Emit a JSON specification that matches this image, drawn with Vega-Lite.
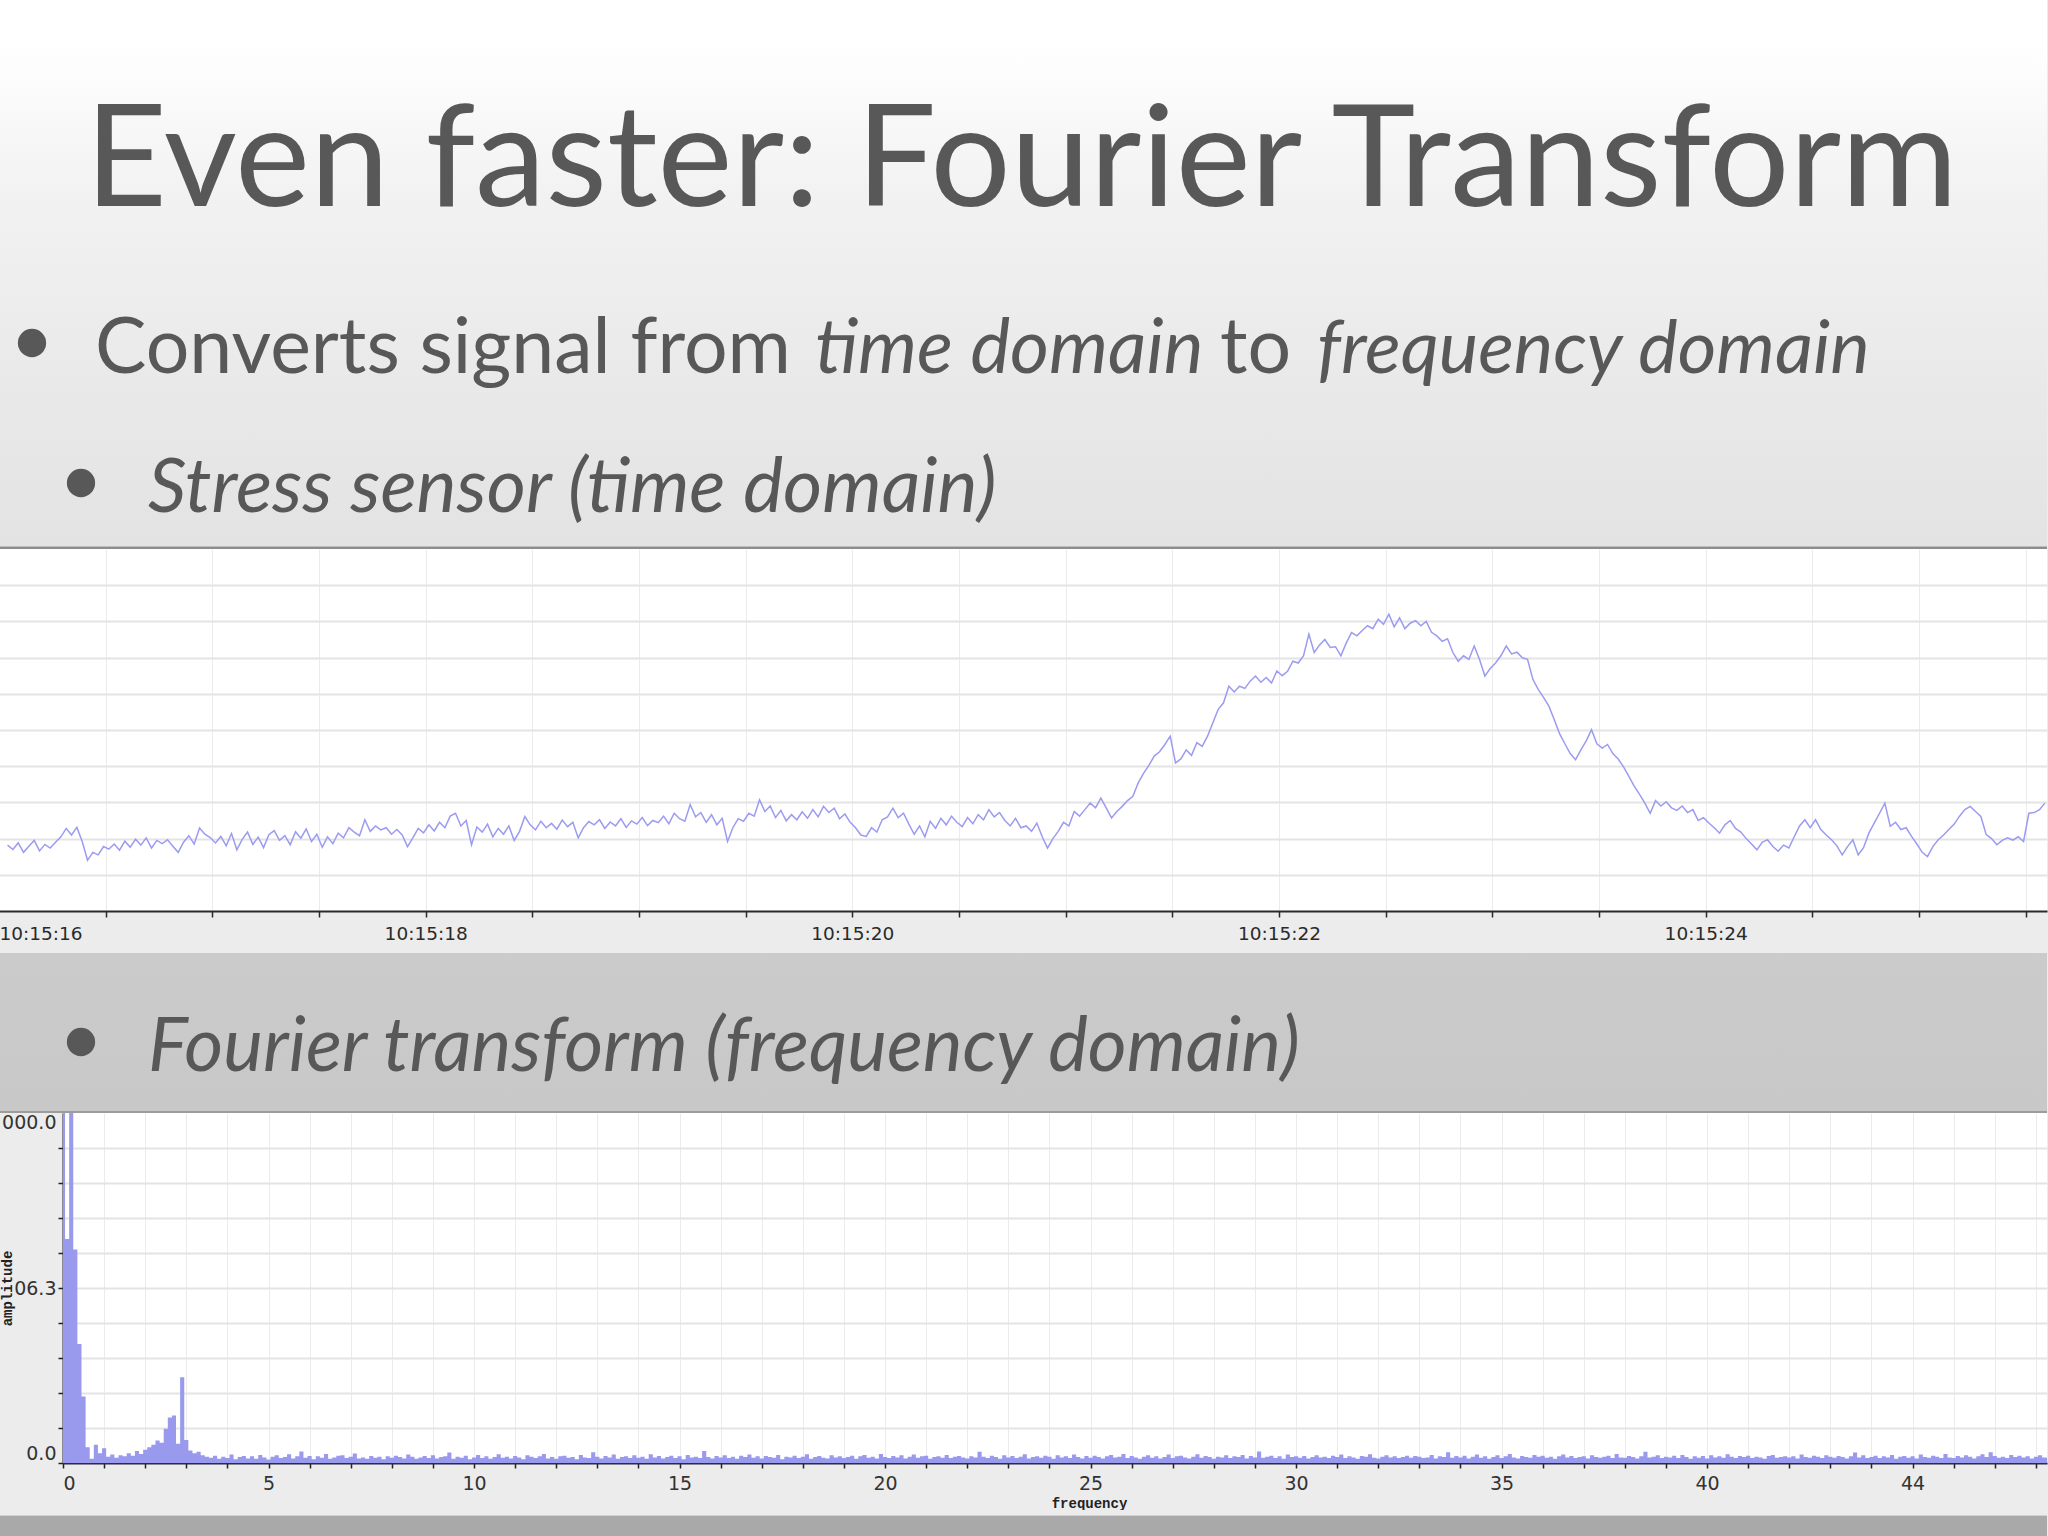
{
  "$schema": "https://vega.github.io/schema/vega-lite/v6.json",
  "background": "#ececec",
  "padding": {"left": -1, "top": 0, "right": 0, "bottom": 0},
  "spacing": 0,
  "config": {
    "view": {"stroke": null},
    "axis": {"labelFont": "DejaVu Sans", "labelOverlap": false}
  },
  "datasets": {
    "stress": [
      {"t":16.04,"v":1.82},{"t":16.065,"v":1.70},{"t":16.09,"v":1.88},{"t":16.115,"v":1.62},{"t":16.14,"v":1.79},{"t":16.165,"v":1.95},{"t":16.19,"v":1.66},{"t":16.215,"v":1.84},{"t":16.24,"v":1.74},{"t":16.265,"v":1.90},
      {"t":16.29,"v":2.05},{"t":16.315,"v":2.28},{"t":16.34,"v":2.10},{"t":16.365,"v":2.31},{"t":16.39,"v":1.92},{"t":16.415,"v":1.40},{"t":16.44,"v":1.62},{"t":16.465,"v":1.55},{"t":16.49,"v":1.78},{"t":16.515,"v":1.71},
      {"t":16.54,"v":1.85},{"t":16.565,"v":1.68},{"t":16.59,"v":1.93},{"t":16.615,"v":1.76},{"t":16.64,"v":1.98},{"t":16.665,"v":1.82},{"t":16.69,"v":2.02},{"t":16.715,"v":1.74},{"t":16.74,"v":1.95},{"t":16.765,"v":1.86},
      {"t":16.79,"v":1.97},{"t":16.815,"v":1.79},{"t":16.84,"v":1.62},{"t":16.865,"v":1.90},{"t":16.89,"v":2.08},{"t":16.915,"v":1.85},{"t":16.94,"v":2.29},{"t":16.965,"v":2.12},{"t":16.99,"v":2.03},{"t":17.015,"v":1.88},
      {"t":17.04,"v":2.06},{"t":17.065,"v":1.80},{"t":17.09,"v":2.14},{"t":17.115,"v":1.69},{"t":17.14,"v":1.98},{"t":17.165,"v":2.18},{"t":17.19,"v":1.84},{"t":17.215,"v":2.04},{"t":17.24,"v":1.75},{"t":17.265,"v":2.11},
      {"t":17.29,"v":2.22},{"t":17.315,"v":1.95},{"t":17.34,"v":2.08},{"t":17.365,"v":1.83},{"t":17.39,"v":2.19},{"t":17.415,"v":2.01},{"t":17.44,"v":2.27},{"t":17.465,"v":1.92},{"t":17.49,"v":2.12},{"t":17.515,"v":1.76},
      {"t":17.54,"v":2.05},{"t":17.565,"v":1.86},{"t":17.59,"v":2.15},{"t":17.615,"v":2.02},{"t":17.64,"v":2.30},{"t":17.665,"v":2.18},{"t":17.69,"v":2.08},{"t":17.715,"v":2.52},{"t":17.74,"v":2.20},{"t":17.765,"v":2.35},
      {"t":17.79,"v":2.24},{"t":17.815,"v":2.30},{"t":17.84,"v":2.12},{"t":17.865,"v":2.25},{"t":17.89,"v":2.10},{"t":17.915,"v":1.78},{"t":17.94,"v":2.02},{"t":17.965,"v":2.28},{"t":17.99,"v":2.16},{"t":18.015,"v":2.38},
      {"t":18.04,"v":2.21},{"t":18.065,"v":2.45},{"t":18.09,"v":2.30},{"t":18.115,"v":2.62},{"t":18.14,"v":2.70},{"t":18.165,"v":2.35},{"t":18.19,"v":2.50},{"t":18.215,"v":1.83},{"t":18.24,"v":2.32},{"t":18.265,"v":2.18},
      {"t":18.29,"v":2.40},{"t":18.315,"v":2.05},{"t":18.34,"v":2.28},{"t":18.365,"v":2.12},{"t":18.39,"v":2.35},{"t":18.415,"v":1.95},{"t":18.44,"v":2.20},{"t":18.465,"v":2.61},{"t":18.49,"v":2.38},{"t":18.515,"v":2.24},
      {"t":18.54,"v":2.48},{"t":18.565,"v":2.30},{"t":18.59,"v":2.42},{"t":18.615,"v":2.26},{"t":18.64,"v":2.51},{"t":18.665,"v":2.33},{"t":18.69,"v":2.45},{"t":18.715,"v":2.02},{"t":18.74,"v":2.30},{"t":18.765,"v":2.47},
      {"t":18.79,"v":2.38},{"t":18.815,"v":2.52},{"t":18.84,"v":2.28},{"t":18.865,"v":2.46},{"t":18.89,"v":2.35},{"t":18.915,"v":2.55},{"t":18.94,"v":2.31},{"t":18.965,"v":2.49},{"t":18.99,"v":2.40},{"t":19.015,"v":2.58},
      {"t":19.04,"v":2.36},{"t":19.065,"v":2.50},{"t":19.09,"v":2.44},{"t":19.115,"v":2.62},{"t":19.14,"v":2.41},{"t":19.165,"v":2.70},{"t":19.19,"v":2.55},{"t":19.215,"v":2.48},{"t":19.24,"v":2.94},{"t":19.265,"v":2.60},
      {"t":19.29,"v":2.72},{"t":19.315,"v":2.45},{"t":19.34,"v":2.66},{"t":19.365,"v":2.38},{"t":19.39,"v":2.56},{"t":19.415,"v":1.92},{"t":19.44,"v":2.30},{"t":19.465,"v":2.55},{"t":19.49,"v":2.48},{"t":19.515,"v":2.70},
      {"t":19.54,"v":2.62},{"t":19.565,"v":3.07},{"t":19.59,"v":2.75},{"t":19.615,"v":2.90},{"t":19.64,"v":2.58},{"t":19.665,"v":2.78},{"t":19.69,"v":2.49},{"t":19.715,"v":2.66},{"t":19.74,"v":2.52},{"t":19.765,"v":2.74},
      {"t":19.79,"v":2.56},{"t":19.815,"v":2.80},{"t":19.84,"v":2.60},{"t":19.865,"v":2.89},{"t":19.89,"v":2.72},{"t":19.915,"v":2.84},{"t":19.94,"v":2.55},{"t":19.965,"v":2.68},{"t":19.99,"v":2.45},{"t":20.015,"v":2.30},
      {"t":20.04,"v":2.10},{"t":20.065,"v":2.06},{"t":20.09,"v":2.30},{"t":20.115,"v":2.18},{"t":20.14,"v":2.52},{"t":20.165,"v":2.60},{"t":20.19,"v":2.84},{"t":20.215,"v":2.58},{"t":20.24,"v":2.70},{"t":20.265,"v":2.40},
      {"t":20.29,"v":2.12},{"t":20.315,"v":2.35},{"t":20.34,"v":2.05},{"t":20.365,"v":2.48},{"t":20.39,"v":2.28},{"t":20.415,"v":2.56},{"t":20.44,"v":2.38},{"t":20.465,"v":2.62},{"t":20.49,"v":2.45},{"t":20.515,"v":2.33},
      {"t":20.54,"v":2.58},{"t":20.565,"v":2.41},{"t":20.59,"v":2.66},{"t":20.615,"v":2.52},{"t":20.64,"v":2.80},{"t":20.665,"v":2.60},{"t":20.69,"v":2.72},{"t":20.715,"v":2.50},{"t":20.74,"v":2.35},{"t":20.765,"v":2.56},
      {"t":20.79,"v":2.30},{"t":20.815,"v":2.35},{"t":20.84,"v":2.20},{"t":20.865,"v":2.43},{"t":20.89,"v":2.05},{"t":20.915,"v":1.74},{"t":20.94,"v":2.00},{"t":20.965,"v":2.20},{"t":20.99,"v":2.45},{"t":21.015,"v":2.35},
      {"t":21.04,"v":2.75},{"t":21.065,"v":2.62},{"t":21.09,"v":2.80},{"t":21.115,"v":2.98},{"t":21.14,"v":2.85},{"t":21.165,"v":3.12},{"t":21.19,"v":2.85},{"t":21.215,"v":2.57},{"t":21.24,"v":2.75},{"t":21.265,"v":2.89},
      {"t":21.29,"v":3.05},{"t":21.315,"v":3.17},{"t":21.34,"v":3.54},{"t":21.365,"v":3.80},{"t":21.39,"v":4.02},{"t":21.415,"v":4.28},{"t":21.44,"v":4.40},{"t":21.465,"v":4.60},{"t":21.49,"v":4.83},{"t":21.515,"v":4.09},
      {"t":21.54,"v":4.20},{"t":21.565,"v":4.45},{"t":21.59,"v":4.30},{"t":21.615,"v":4.65},{"t":21.64,"v":4.55},{"t":21.665,"v":4.83},{"t":21.69,"v":5.20},{"t":21.715,"v":5.57},{"t":21.74,"v":5.75},{"t":21.765,"v":6.21},
      {"t":21.79,"v":6.05},{"t":21.815,"v":6.21},{"t":21.84,"v":6.15},{"t":21.865,"v":6.35},{"t":21.89,"v":6.49},{"t":21.915,"v":6.32},{"t":21.94,"v":6.45},{"t":21.965,"v":6.30},{"t":21.99,"v":6.63},{"t":22.015,"v":6.50},
      {"t":22.04,"v":6.62},{"t":22.065,"v":6.90},{"t":22.09,"v":6.85},{"t":22.115,"v":7.05},{"t":22.14,"v":7.65},{"t":22.165,"v":7.14},{"t":22.19,"v":7.35},{"t":22.215,"v":7.50},{"t":22.24,"v":7.28},{"t":22.265,"v":7.30},
      {"t":22.29,"v":7.05},{"t":22.315,"v":7.40},{"t":22.34,"v":7.69},{"t":22.365,"v":7.60},{"t":22.39,"v":7.75},{"t":22.415,"v":7.88},{"t":22.44,"v":7.80},{"t":22.465,"v":8.06},{"t":22.49,"v":7.92},{"t":22.515,"v":8.20},
      {"t":22.54,"v":7.85},{"t":22.565,"v":8.10},{"t":22.59,"v":7.80},{"t":22.615,"v":7.95},{"t":22.64,"v":8.02},{"t":22.665,"v":7.88},{"t":22.69,"v":8.00},{"t":22.715,"v":7.70},{"t":22.74,"v":7.60},{"t":22.765,"v":7.45},
      {"t":22.79,"v":7.52},{"t":22.815,"v":7.14},{"t":22.84,"v":6.90},{"t":22.865,"v":7.05},{"t":22.89,"v":6.95},{"t":22.915,"v":7.32},{"t":22.94,"v":6.95},{"t":22.965,"v":6.49},{"t":22.99,"v":6.70},{"t":23.015,"v":6.85},
      {"t":23.04,"v":7.05},{"t":23.065,"v":7.32},{"t":23.09,"v":7.10},{"t":23.115,"v":7.15},{"t":23.14,"v":7.00},{"t":23.165,"v":6.95},{"t":23.19,"v":6.40},{"t":23.215,"v":6.12},{"t":23.24,"v":5.90},{"t":23.265,"v":5.66},
      {"t":23.29,"v":5.29},{"t":23.315,"v":4.90},{"t":23.34,"v":4.62},{"t":23.365,"v":4.35},{"t":23.39,"v":4.18},{"t":23.415,"v":4.45},{"t":23.44,"v":4.70},{"t":23.465,"v":5.01},{"t":23.49,"v":4.62},{"t":23.515,"v":4.50},
      {"t":23.54,"v":4.60},{"t":23.565,"v":4.35},{"t":23.59,"v":4.20},{"t":23.615,"v":3.98},{"t":23.64,"v":3.72},{"t":23.665,"v":3.45},{"t":23.69,"v":3.22},{"t":23.715,"v":2.98},{"t":23.74,"v":2.70},{"t":23.765,"v":3.05},
      {"t":23.79,"v":2.90},{"t":23.815,"v":3.02},{"t":23.84,"v":2.85},{"t":23.865,"v":2.78},{"t":23.89,"v":2.90},{"t":23.915,"v":2.72},{"t":23.94,"v":2.80},{"t":23.965,"v":2.50},{"t":23.99,"v":2.58},{"t":24.015,"v":2.43},
      {"t":24.04,"v":2.30},{"t":24.065,"v":2.15},{"t":24.09,"v":2.38},{"t":24.115,"v":2.50},{"t":24.14,"v":2.28},{"t":24.165,"v":2.18},{"t":24.19,"v":2.00},{"t":24.215,"v":1.85},{"t":24.24,"v":1.69},{"t":24.265,"v":1.90},
      {"t":24.29,"v":1.97},{"t":24.315,"v":1.78},{"t":24.34,"v":1.65},{"t":24.365,"v":1.82},{"t":24.39,"v":1.74},{"t":24.415,"v":2.05},{"t":24.44,"v":2.35},{"t":24.465,"v":2.52},{"t":24.49,"v":2.30},{"t":24.515,"v":2.52},
      {"t":24.54,"v":2.25},{"t":24.565,"v":2.10},{"t":24.59,"v":1.97},{"t":24.615,"v":1.80},{"t":24.64,"v":1.55},{"t":24.665,"v":1.78},{"t":24.69,"v":1.97},{"t":24.715,"v":1.55},{"t":24.74,"v":1.75},{"t":24.765,"v":2.15},
      {"t":24.79,"v":2.43},{"t":24.815,"v":2.70},{"t":24.84,"v":2.98},{"t":24.865,"v":2.34},{"t":24.89,"v":2.45},{"t":24.915,"v":2.25},{"t":24.94,"v":2.30},{"t":24.965,"v":2.06},{"t":24.99,"v":1.85},{"t":25.015,"v":1.62},
      {"t":25.04,"v":1.50},{"t":25.065,"v":1.78},{"t":25.09,"v":1.97},{"t":25.115,"v":2.10},{"t":25.14,"v":2.25},{"t":25.165,"v":2.40},{"t":25.19,"v":2.62},{"t":25.215,"v":2.80},{"t":25.24,"v":2.89},{"t":25.265,"v":2.75},
      {"t":25.29,"v":2.61},{"t":25.315,"v":2.11},{"t":25.34,"v":2.00},{"t":25.365,"v":1.83},{"t":25.39,"v":1.95},{"t":25.415,"v":2.02},{"t":25.44,"v":1.96},{"t":25.465,"v":2.05},{"t":25.49,"v":1.92},{"t":25.515,"v":2.70},
      {"t":25.54,"v":2.72},{"t":25.565,"v":2.80},{"t":25.59,"v":2.98}
    ],
    "fft": [
      {"f":0,"a":13},{"f":0.1,"a":6.4},{"f":0.2,"a":12.5},{"f":0.3,"a":6.1},{"f":0.4,"a":3.4},{"f":0.5,"a":1.9},{"f":0.6,"a":0.45},{"f":0.7,"a":0.12},{"f":0.8,"a":0.52},{"f":0.9,"a":0.28},
      {"f":1,"a":0.42},{"f":1.1,"a":0.18},{"f":1.2,"a":0.24},{"f":1.3,"a":0.15},{"f":1.4,"a":0.22},{"f":1.5,"a":0.19},{"f":1.6,"a":0.28},{"f":1.7,"a":0.21},{"f":1.8,"a":0.34},{"f":1.9,"a":0.26},
      {"f":2,"a":0.38},{"f":2.1,"a":0.45},{"f":2.2,"a":0.52},{"f":2.3,"a":0.64},{"f":2.4,"a":0.58},{"f":2.5,"a":0.98},{"f":2.6,"a":1.30},{"f":2.7,"a":1.36},{"f":2.8,"a":0.55},{"f":2.9,"a":2.45},
      {"f":3,"a":0.66},{"f":3.1,"a":0.36},{"f":3.2,"a":0.28},{"f":3.3,"a":0.32},{"f":3.4,"a":0.22},{"f":3.5,"a":0.18},{"f":3.6,"a":0.15},{"f":3.7,"a":0.21},{"f":3.8,"a":0.12},{"f":3.9,"a":0.18},
      {"f":4,"a":0.14},{"f":4.1,"a":0.24},{"f":4.2,"a":0.11},{"f":4.3,"a":0.17},{"f":4.4,"a":0.20},{"f":4.5,"a":0.13},{"f":4.6,"a":0.19},{"f":4.7,"a":0.12},{"f":4.8,"a":0.23},{"f":4.9,"a":0.16},
      {"f":5,"a":0.10},{"f":5.1,"a":0.18},{"f":5.2,"a":0.22},{"f":5.3,"a":0.14},{"f":5.4,"a":0.17},{"f":5.5,"a":0.25},{"f":5.6,"a":0.13},{"f":5.7,"a":0.19},{"f":5.8,"a":0.33},{"f":5.9,"a":0.15},
      {"f":6,"a":0.20},{"f":6.1,"a":0.11},{"f":6.2,"a":0.19},{"f":6.3,"a":0.15},{"f":6.4,"a":0.26},{"f":6.5,"a":0.12},{"f":6.6,"a":0.16},{"f":6.7,"a":0.21},{"f":6.8,"a":0.22},{"f":6.9,"a":0.14},
      {"f":7,"a":0.18},{"f":7.1,"a":0.27},{"f":7.2,"a":0.13},{"f":7.3,"a":0.16},{"f":7.4,"a":0.12},{"f":7.5,"a":0.20},{"f":7.6,"a":0.15},{"f":7.7,"a":0.18},{"f":7.8,"a":0.11},{"f":7.9,"a":0.19},
      {"f":8,"a":0.15},{"f":8.1,"a":0.21},{"f":8.2,"a":0.17},{"f":8.3,"a":0.13},{"f":8.4,"a":0.24},{"f":8.5,"a":0.18},{"f":8.6,"a":0.12},{"f":8.7,"a":0.16},{"f":8.8,"a":0.20},{"f":8.9,"a":0.14},
      {"f":9,"a":0.22},{"f":9.1,"a":0.13},{"f":9.2,"a":0.17},{"f":9.3,"a":0.19},{"f":9.4,"a":0.30},{"f":9.5,"a":0.12},{"f":9.6,"a":0.18},{"f":9.7,"a":0.15},{"f":9.8,"a":0.21},{"f":9.9,"a":0.11},
      {"f":10,"a":0.16},{"f":10.1,"a":0.23},{"f":10.2,"a":0.14},{"f":10.3,"a":0.19},{"f":10.4,"a":0.12},{"f":10.5,"a":0.17},{"f":10.6,"a":0.25},{"f":10.7,"a":0.15},{"f":10.8,"a":0.18},{"f":10.9,"a":0.13},
      {"f":11,"a":0.20},{"f":11.1,"a":0.16},{"f":11.2,"a":0.11},{"f":11.3,"a":0.22},{"f":11.4,"a":0.18},{"f":11.5,"a":0.14},{"f":11.6,"a":0.19},{"f":11.7,"a":0.26},{"f":11.8,"a":0.13},{"f":11.9,"a":0.17},
      {"f":12,"a":0.12},{"f":12.1,"a":0.19},{"f":12.2,"a":0.21},{"f":12.3,"a":0.15},{"f":12.4,"a":0.17},{"f":12.5,"a":0.11},{"f":12.6,"a":0.23},{"f":12.7,"a":0.16},{"f":12.8,"a":0.14},{"f":12.9,"a":0.31},
      {"f":13,"a":0.18},{"f":13.1,"a":0.13},{"f":13.2,"a":0.20},{"f":13.3,"a":0.16},{"f":13.4,"a":0.24},{"f":13.5,"a":0.12},{"f":13.6,"a":0.17},{"f":13.7,"a":0.19},{"f":13.8,"a":0.14},{"f":13.9,"a":0.22},
      {"f":14,"a":0.15},{"f":14.1,"a":0.18},{"f":14.2,"a":0.12},{"f":14.3,"a":0.25},{"f":14.4,"a":0.16},{"f":14.5,"a":0.20},{"f":14.6,"a":0.13},{"f":14.7,"a":0.17},{"f":14.8,"a":0.21},{"f":14.9,"a":0.14},
      {"f":15,"a":0.19},{"f":15.1,"a":0.11},{"f":15.2,"a":0.23},{"f":15.3,"a":0.16},{"f":15.4,"a":0.18},{"f":15.5,"a":0.14},{"f":15.6,"a":0.34},{"f":15.7,"a":0.17},{"f":15.8,"a":0.13},{"f":15.9,"a":0.20},
      {"f":16,"a":0.16},{"f":16.1,"a":0.22},{"f":16.2,"a":0.14},{"f":16.3,"a":0.18},{"f":16.4,"a":0.12},{"f":16.5,"a":0.21},{"f":16.6,"a":0.17},{"f":16.7,"a":0.24},{"f":16.8,"a":0.15},{"f":16.9,"a":0.19},
      {"f":17,"a":0.13},{"f":17.1,"a":0.20},{"f":17.2,"a":0.17},{"f":17.3,"a":0.15},{"f":17.4,"a":0.23},{"f":17.5,"a":0.11},{"f":17.6,"a":0.18},{"f":17.7,"a":0.16},{"f":17.8,"a":0.21},{"f":17.9,"a":0.14},
      {"f":18,"a":0.18},{"f":18.1,"a":0.25},{"f":18.2,"a":0.12},{"f":18.3,"a":0.17},{"f":18.4,"a":0.20},{"f":18.5,"a":0.15},{"f":18.6,"a":0.13},{"f":18.7,"a":0.22},{"f":18.8,"a":0.16},{"f":18.9,"a":0.19},
      {"f":19,"a":0.14},{"f":19.1,"a":0.17},{"f":19.2,"a":0.21},{"f":19.3,"a":0.12},{"f":19.4,"a":0.19},{"f":19.5,"a":0.23},{"f":19.6,"a":0.15},{"f":19.7,"a":0.18},{"f":19.8,"a":0.13},{"f":19.9,"a":0.26},
      {"f":20,"a":0.17},{"f":20.1,"a":0.14},{"f":20.2,"a":0.20},{"f":20.3,"a":0.16},{"f":20.4,"a":0.22},{"f":20.5,"a":0.13},{"f":20.6,"a":0.18},{"f":20.7,"a":0.24},{"f":20.8,"a":0.15},{"f":20.9,"a":0.19},
      {"f":21,"a":0.21},{"f":21.1,"a":0.12},{"f":21.2,"a":0.17},{"f":21.3,"a":0.19},{"f":21.4,"a":0.15},{"f":21.5,"a":0.23},{"f":21.6,"a":0.14},{"f":21.7,"a":0.18},{"f":21.8,"a":0.20},{"f":21.9,"a":0.16},
      {"f":22,"a":0.13},{"f":22.1,"a":0.19},{"f":22.2,"a":0.16},{"f":22.3,"a":0.32},{"f":22.4,"a":0.18},{"f":22.5,"a":0.14},{"f":22.6,"a":0.21},{"f":22.7,"a":0.17},{"f":22.8,"a":0.12},{"f":22.9,"a":0.22},
      {"f":23,"a":0.16},{"f":23.1,"a":0.20},{"f":23.2,"a":0.14},{"f":23.3,"a":0.18},{"f":23.4,"a":0.25},{"f":23.5,"a":0.13},{"f":23.6,"a":0.17},{"f":23.7,"a":0.19},{"f":23.8,"a":0.15},{"f":23.9,"a":0.21},
      {"f":24,"a":0.18},{"f":24.1,"a":0.12},{"f":24.2,"a":0.22},{"f":24.3,"a":0.16},{"f":24.4,"a":0.19},{"f":24.5,"a":0.14},{"f":24.6,"a":0.24},{"f":24.7,"a":0.17},{"f":24.8,"a":0.13},{"f":24.9,"a":0.20},
      {"f":25,"a":0.15},{"f":25.1,"a":0.21},{"f":25.2,"a":0.17},{"f":25.3,"a":0.13},{"f":25.4,"a":0.19},{"f":25.5,"a":0.23},{"f":25.6,"a":0.16},{"f":25.7,"a":0.18},{"f":25.8,"a":0.26},{"f":25.9,"a":0.14},
      {"f":26,"a":0.20},{"f":26.1,"a":0.16},{"f":26.2,"a":0.12},{"f":26.3,"a":0.18},{"f":26.4,"a":0.22},{"f":26.5,"a":0.15},{"f":26.6,"a":0.19},{"f":26.7,"a":0.13},{"f":26.8,"a":0.17},{"f":26.9,"a":0.24},
      {"f":27,"a":0.14},{"f":27.1,"a":0.19},{"f":27.2,"a":0.21},{"f":27.3,"a":0.16},{"f":27.4,"a":0.13},{"f":27.5,"a":0.18},{"f":27.6,"a":0.25},{"f":27.7,"a":0.15},{"f":27.8,"a":0.20},{"f":27.9,"a":0.17},
      {"f":28,"a":0.12},{"f":28.1,"a":0.18},{"f":28.2,"a":0.16},{"f":28.3,"a":0.22},{"f":28.4,"a":0.14},{"f":28.5,"a":0.19},{"f":28.6,"a":0.17},{"f":28.7,"a":0.23},{"f":28.8,"a":0.13},{"f":28.9,"a":0.20},
      {"f":29,"a":0.16},{"f":29.1,"a":0.33},{"f":29.2,"a":0.15},{"f":29.3,"a":0.18},{"f":29.4,"a":0.21},{"f":29.5,"a":0.14},{"f":29.6,"a":0.19},{"f":29.7,"a":0.12},{"f":29.8,"a":0.24},{"f":29.9,"a":0.17},
      {"f":30,"a":0.19},{"f":30.1,"a":0.15},{"f":30.2,"a":0.20},{"f":30.3,"a":0.13},{"f":30.4,"a":0.17},{"f":30.5,"a":0.22},{"f":30.6,"a":0.16},{"f":30.7,"a":0.18},{"f":30.8,"a":0.14},{"f":30.9,"a":0.21},
      {"f":31,"a":0.17},{"f":31.1,"a":0.24},{"f":31.2,"a":0.14},{"f":31.3,"a":0.19},{"f":31.4,"a":0.16},{"f":31.5,"a":0.12},{"f":31.6,"a":0.20},{"f":31.7,"a":0.18},{"f":31.8,"a":0.25},{"f":31.9,"a":0.15},
      {"f":32,"a":0.13},{"f":32.1,"a":0.18},{"f":32.2,"a":0.22},{"f":32.3,"a":0.16},{"f":32.4,"a":0.19},{"f":32.5,"a":0.14},{"f":32.6,"a":0.17},{"f":32.7,"a":0.21},{"f":32.8,"a":0.15},{"f":32.9,"a":0.20},
      {"f":33,"a":0.18},{"f":33.1,"a":0.14},{"f":33.2,"a":0.16},{"f":33.3,"a":0.23},{"f":33.4,"a":0.13},{"f":33.5,"a":0.19},{"f":33.6,"a":0.17},{"f":33.7,"a":0.31},{"f":33.8,"a":0.15},{"f":33.9,"a":0.20},
      {"f":34,"a":0.16},{"f":34.1,"a":0.21},{"f":34.2,"a":0.13},{"f":34.3,"a":0.18},{"f":34.4,"a":0.24},{"f":34.5,"a":0.15},{"f":34.6,"a":0.19},{"f":34.7,"a":0.12},{"f":34.8,"a":0.17},{"f":34.9,"a":0.22},
      {"f":35,"a":0.14},{"f":35.1,"a":0.19},{"f":35.2,"a":0.26},{"f":35.3,"a":0.16},{"f":35.4,"a":0.13},{"f":35.5,"a":0.20},{"f":35.6,"a":0.17},{"f":35.7,"a":0.15},{"f":35.8,"a":0.23},{"f":35.9,"a":0.18},
      {"f":36,"a":0.21},{"f":36.1,"a":0.15},{"f":36.2,"a":0.18},{"f":36.3,"a":0.12},{"f":36.4,"a":0.19},{"f":36.5,"a":0.24},{"f":36.6,"a":0.16},{"f":36.7,"a":0.20},{"f":36.8,"a":0.14},{"f":36.9,"a":0.17},
      {"f":37,"a":0.19},{"f":37.1,"a":0.13},{"f":37.2,"a":0.22},{"f":37.3,"a":0.17},{"f":37.4,"a":0.15},{"f":37.5,"a":0.18},{"f":37.6,"a":0.21},{"f":37.7,"a":0.14},{"f":37.8,"a":0.26},{"f":37.9,"a":0.16},
      {"f":38,"a":0.15},{"f":38.1,"a":0.20},{"f":38.2,"a":0.17},{"f":38.3,"a":0.13},{"f":38.4,"a":0.19},{"f":38.5,"a":0.32},{"f":38.6,"a":0.16},{"f":38.7,"a":0.18},{"f":38.8,"a":0.22},{"f":38.9,"a":0.14},
      {"f":39,"a":0.18},{"f":39.1,"a":0.16},{"f":39.2,"a":0.21},{"f":39.3,"a":0.14},{"f":39.4,"a":0.23},{"f":39.5,"a":0.17},{"f":39.6,"a":0.12},{"f":39.7,"a":0.19},{"f":39.8,"a":0.15},{"f":39.9,"a":0.20},
      {"f":40,"a":0.13},{"f":40.1,"a":0.22},{"f":40.2,"a":0.16},{"f":40.3,"a":0.19},{"f":40.4,"a":0.15},{"f":40.5,"a":0.25},{"f":40.6,"a":0.18},{"f":40.7,"a":0.14},{"f":40.8,"a":0.20},{"f":40.9,"a":0.17},
      {"f":41,"a":0.21},{"f":41.1,"a":0.14},{"f":41.2,"a":0.18},{"f":41.3,"a":0.16},{"f":41.4,"a":0.12},{"f":41.5,"a":0.20},{"f":41.6,"a":0.23},{"f":41.7,"a":0.15},{"f":41.8,"a":0.17},{"f":41.9,"a":0.19},
      {"f":42,"a":0.16},{"f":42.1,"a":0.19},{"f":42.2,"a":0.13},{"f":42.3,"a":0.24},{"f":42.4,"a":0.17},{"f":42.5,"a":0.15},{"f":42.6,"a":0.21},{"f":42.7,"a":0.18},{"f":42.8,"a":0.14},{"f":42.9,"a":0.22},
      {"f":43,"a":0.18},{"f":43.1,"a":0.15},{"f":43.2,"a":0.20},{"f":43.3,"a":0.17},{"f":43.4,"a":0.13},{"f":43.5,"a":0.19},{"f":43.6,"a":0.30},{"f":43.7,"a":0.16},{"f":43.8,"a":0.22},{"f":43.9,"a":0.14},
      {"f":44,"a":0.17},{"f":44.1,"a":0.21},{"f":44.2,"a":0.14},{"f":44.3,"a":0.19},{"f":44.4,"a":0.16},{"f":44.5,"a":0.23},{"f":44.6,"a":0.12},{"f":44.7,"a":0.18},{"f":44.8,"a":0.20},{"f":44.9,"a":0.15},
      {"f":45,"a":0.19},{"f":45.1,"a":0.13},{"f":45.2,"a":0.24},{"f":45.3,"a":0.17},{"f":45.4,"a":0.15},{"f":45.5,"a":0.21},{"f":45.6,"a":0.18},{"f":45.7,"a":0.14},{"f":45.8,"a":0.26},{"f":45.9,"a":0.16},
      {"f":46,"a":0.14},{"f":46.1,"a":0.20},{"f":46.2,"a":0.16},{"f":46.3,"a":0.22},{"f":46.4,"a":0.18},{"f":46.5,"a":0.13},{"f":46.6,"a":0.19},{"f":46.7,"a":0.25},{"f":46.8,"a":0.17},{"f":46.9,"a":0.31},
      {"f":47,"a":0.20},{"f":47.1,"a":0.15},{"f":47.2,"a":0.18},{"f":47.3,"a":0.14},{"f":47.4,"a":0.23},{"f":47.5,"a":0.17},{"f":47.6,"a":0.21},{"f":47.7,"a":0.16},{"f":47.8,"a":0.19},{"f":47.9,"a":0.13},
      {"f":48,"a":0.18},{"f":48.1,"a":0.22},{"f":48.2,"a":0.16},{"f":48.3,"a":0.15}
    ]
  },
  "vconcat": [
    {
      "width": 2048,
      "height": 549,
      "data": {"values": [{}]},
      "layer": [
        {"mark": {"type": "rect", "color": {"gradient": "linear", "x1": 0, "y1": 0, "x2": 0, "y2": 1, "stops": [
          {"offset": 0, "color": "#ffffff"}, {"offset": 0.08, "color": "#ffffff"}, {"offset": 0.35, "color": "#f2f2f2"}, {"offset": 0.7, "color": "#e9e9e9"}, {"offset": 0.995, "color": "#e3e3e3"}, {"offset": 0.996, "color": "#8c8c8c"}, {"offset": 1, "color": "#8c8c8c"}]}}},
        {"mark": {"type": "text", "text": "Even faster: Fourier Transform", "font": "Lato", "fontSize": 142, "color": "#585858", "align": "left", "baseline": "alphabetic"},
         "encoding": {"x": {"datum": 86, "type": "quantitative", "scale": {"domain": [0, 2048], "nice": false, "zero": false}, "axis": null},
                      "y": {"datum": 206, "type": "quantitative", "scale": {"domain": [0, 549], "nice": false, "reverse": true}, "axis": null}}},
        {"mark": {"type": "point", "shape": "circle", "filled": true, "size": 800, "color": "#585858", "opacity": 1},
         "encoding": {"x": {"datum": 33, "type": "quantitative", "scale": {"domain": [0, 2048], "nice": false, "zero": false}, "axis": null},
                      "y": {"datum": 343, "type": "quantitative", "scale": {"domain": [0, 549], "nice": false, "reverse": true}, "axis": null}}},
        {"mark": {"type": "text", "text": "Converts signal from", "font": "Lato", "fontSize": 77, "color": "#585858", "align": "left", "baseline": "alphabetic"},
         "encoding": {"x": {"datum": 96, "type": "quantitative", "scale": {"domain": [0, 2048], "nice": false, "zero": false}, "axis": null},
                      "y": {"datum": 373, "type": "quantitative", "scale": {"domain": [0, 549], "nice": false, "reverse": true}, "axis": null}}},
        {"mark": {"type": "text", "text": "time domain", "font": "Lato", "fontStyle": "italic", "fontSize": 75, "color": "#585858", "align": "left", "baseline": "alphabetic"},
         "encoding": {"x": {"datum": 816, "type": "quantitative", "scale": {"domain": [0, 2048], "nice": false, "zero": false}, "axis": null},
                      "y": {"datum": 373, "type": "quantitative", "scale": {"domain": [0, 549], "nice": false, "reverse": true}, "axis": null}}},
        {"mark": {"type": "text", "text": "to", "font": "Lato", "fontSize": 77, "color": "#585858", "align": "left", "baseline": "alphabetic"},
         "encoding": {"x": {"datum": 1221, "type": "quantitative", "scale": {"domain": [0, 2048], "nice": false, "zero": false}, "axis": null},
                      "y": {"datum": 373, "type": "quantitative", "scale": {"domain": [0, 549], "nice": false, "reverse": true}, "axis": null}}},
        {"mark": {"type": "text", "text": "frequency domain", "font": "Lato", "fontStyle": "italic", "fontSize": 74.5, "color": "#585858", "align": "left", "baseline": "alphabetic"},
         "encoding": {"x": {"datum": 1318, "type": "quantitative", "scale": {"domain": [0, 2048], "nice": false, "zero": false}, "axis": null},
                      "y": {"datum": 373, "type": "quantitative", "scale": {"domain": [0, 549], "nice": false, "reverse": true}, "axis": null}}},
        {"mark": {"type": "point", "shape": "circle", "filled": true, "size": 800, "color": "#585858", "opacity": 1},
         "encoding": {"x": {"datum": 82, "type": "quantitative", "scale": {"domain": [0, 2048], "nice": false, "zero": false}, "axis": null},
                      "y": {"datum": 483, "type": "quantitative", "scale": {"domain": [0, 549], "nice": false, "reverse": true}, "axis": null}}},
        {"mark": {"type": "text", "text": "Stress sensor (time domain)", "font": "Lato", "fontStyle": "italic", "fontSize": 75.5, "color": "#585858", "align": "left", "baseline": "alphabetic"},
         "encoding": {"x": {"datum": 149, "type": "quantitative", "scale": {"domain": [0, 2048], "nice": false, "zero": false}, "axis": null},
                      "y": {"datum": 512, "type": "quantitative", "scale": {"domain": [0, 549], "nice": false, "reverse": true}, "axis": null}}}
      ]
    },
    {
      "width": 2048,
      "height": 362,
      "view": {"fill": "#ffffff", "stroke": null},
      "data": {"name": "stress"},
      "mark": {"type": "line", "color": "#9b9bf1", "strokeWidth": 1.5},
      "encoding": {
        "x": {"field": "t", "type": "quantitative",
              "scale": {"domain": [16, 25.6], "nice": false, "zero": false},
              "axis": {"values": [16,16.5,17,17.5,18,18.5,19,19.5,20,20.5,21,21.5,22,22.5,23,23.5,24,24.5,25,25.5],
                       "title": null,
                       "labelExpr": "datum.value % 2 == 0 ? '10:15:' + datum.value : ''",
                       "labelFlush": true,
                       "labelFontSize": 18.5, "labelColor": "#2a2a2a", "labelPadding": 7,
                       "tickSize": 6, "tickColor": "#2a2a2a",
                       "tickWidth": {"condition": {"test": "datum.value == 16", "value": 0}, "value": 1.5},
                       "domainColor": "#2a2a2a", "domainWidth": 2,
                       "grid": true, "gridColor": "#ebebeb",
                       "gridWidth": {"condition": {"test": "datum.value == 16", "value": 0}, "value": 1},
                       "minExtent": 42, "maxExtent": 42}},
        "y": {"field": "v", "type": "quantitative",
              "scale": {"domain": [0, 10], "nice": false},
              "axis": {"values": [1,2,3,4,5,6,7,8,9], "labels": false, "ticks": false, "domain": false, "title": null,
                       "grid": true, "gridColor": "#e4e4e4", "gridWidth": 2, "minExtent": 0, "maxExtent": 0}}
      }
    },
    {
      "width": 2048,
      "height": 160,
      "data": {"values": [{}]},
      "layer": [
        {"mark": {"type": "rect", "color": {"gradient": "linear", "x1": 0, "y1": 0, "x2": 0, "y2": 1, "stops": [
          {"offset": 0, "color": "#cbcbcc"}, {"offset": 0.985, "color": "#c8c8c9"}, {"offset": 0.988, "color": "#9c9c9c"}, {"offset": 1, "color": "#9c9c9c"}]}}},
        {"mark": {"type": "point", "shape": "circle", "filled": true, "size": 800, "color": "#585858", "opacity": 1},
         "encoding": {"x": {"datum": 82, "type": "quantitative", "scale": {"domain": [0, 2048], "nice": false, "zero": false}, "axis": null},
                      "y": {"datum": 89, "type": "quantitative", "scale": {"domain": [0, 160], "nice": false, "reverse": true}, "axis": null}}},
        {"mark": {"type": "text", "text": "Fourier transform (frequency domain)", "font": "Lato", "fontStyle": "italic", "fontSize": 75, "color": "#585858", "align": "left", "baseline": "alphabetic"},
         "encoding": {"x": {"datum": 149, "type": "quantitative", "scale": {"domain": [0, 2048], "nice": false, "zero": false}, "axis": null},
                      "y": {"datum": 118, "type": "quantitative", "scale": {"domain": [0, 160], "nice": false, "reverse": true}, "axis": null}}}
      ]
    },
    {
      "spacing": 0,
      "hconcat": [
        {"width": 1, "height": 350, "data": {"values": []}, "mark": "rect", "encoding": {}},
        {
          "width": 1984,
          "height": 350,
          "view": {"fill": "#ffffff", "stroke": null},
          "data": {"name": "fft"},
          "mark": {"type": "area", "color": "#9999ee", "interpolate": "step", "clip": true, "opacity": 1},
          "encoding": {
            "x": {"field": "f", "type": "quantitative",
                  "scale": {"domain": [0, 48.27], "nice": false, "zero": false},
                  "axis": {"values": [0,1,2,3,4,5,6,7,8,9,10,11,12,13,14,15,16,17,18,19,20,21,22,23,24,25,26,27,28,29,30,31,32,33,34,35,36,37,38,39,40,41,42,43,44,45,46,47,48],
                           "labelExpr": "datum.value % 5 == 0 ? (datum.value == 45 ? '44' : datum.label) : ''",
                           "title": "frequency", "titleFont": "Liberation Mono", "titleFontWeight": "bold", "titleFontSize": 14, "titleColor": "#222222",
                           "titleX": 1026, "titlePadding": 3,
                           "labelFontSize": 19, "labelColor": "#333333", "labelPadding": 6,
                           "tickSize": 5, "tickColor": "#222222", "tickWidth": 1.5,
                           "domainColor": "#2b2b45", "domainWidth": 2,
                           "grid": true, "gridColor": "#ebebeb", "gridWidth": 1,
                           "minExtent": 30, "maxExtent": 30}},
            "y": {"field": "a", "type": "quantitative",
                  "scale": {"domain": [0, 10], "nice": false},
                  "axis": {"values": [0,1,2,3,4,5,6,7,8,9,10],
                           "labelExpr": "datum.value == 0 ? '0.0' : datum.value == 5 ? '06.3' : datum.value == 10 ? '000.0' : ''",
                           "labelFlush": true, "labelFontSize": 19, "labelColor": "#333333", "labelPadding": 2,
                           "tickSize": 5, "tickColor": "#222222",
                           "tickWidth": {"condition": {"test": "datum.value == 10", "value": 0}, "value": 1.5},
                           "domainColor": "#2b2b45", "domainWidth": 2,
                           "title": "amplitude", "titleFont": "Liberation Mono", "titleFontWeight": "bold", "titleFontSize": 14, "titleColor": "#222222",
                           "titlePadding": 1,
                           "grid": true, "gridColor": "#e4e4e4",
                           "gridWidth": {"condition": {"test": "datum.value == 10", "value": 0}, "value": 2},
                           "minExtent": 48, "maxExtent": 48}}
          }
        }
      ]
    },
    {
      "width": 2048,
      "height": 26,
      "data": {"values": [{}]},
      "mark": {"type": "rect", "color": {"gradient": "linear", "x1": 0, "y1": 0, "x2": 0, "y2": 1, "stops": [
        {"offset": 0, "color": "#ececec"}, {"offset": 0.2, "color": "#ececec"}, {"offset": 0.23, "color": "#a9a9a9"}, {"offset": 1, "color": "#a9a9a9"}]}}
    }
  ]
}
